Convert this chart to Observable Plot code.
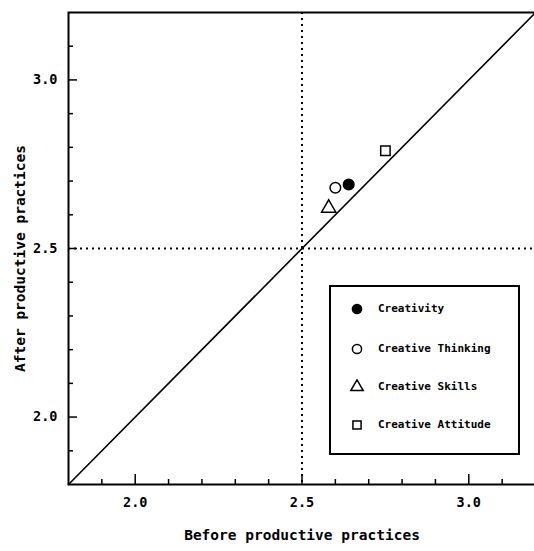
<!DOCTYPE html>
<html><head><meta charset="utf-8">
<script src="https://cdn.jsdelivr.net/npm/d3@7"></script>
<script src="https://cdn.jsdelivr.net/npm/@observablehq/plot@0.6"></script>
<style>
body{margin:0;background:#fff;}
#wrap{position:relative;width:534px;height:551px;overflow:hidden;}
#legend{position:absolute;left:329px;top:285px;width:187px;height:166px;border:2px solid #000;background:#fff;font-family:"DejaVu Sans Mono",monospace;font-weight:bold;font-size:11px;}
.row{position:absolute;left:0;height:16px;display:flex;align-items:center;}
.row svg{position:absolute;left:18px;top:0;}
.row span{position:absolute;left:47px;white-space:nowrap;line-height:16px;top:0;}
</style></head><body><div id="wrap"></div>
<script>
const categories = ["Creativity", "Creative Thinking", "Creative Skills", "Creative Attitude"];
const before = [2.64, 2.60, 2.58, 2.75];
const after = [2.69, 2.68, 2.62, 2.79];
const symbols = ["circle", "circle", "triangle", "square"];
const fills = ["black", "white", "white", "white"];
const xTickLabels = [2.0, 2.5, 3.0];
const yTickLabels = [2.0, 2.5, 3.0];
const xMinorTicks = [1.9, 2.1, 2.2, 2.3, 2.4, 2.6, 2.7, 2.8, 2.9, 3.1];
const yMinorTicks = [1.9, 2.1, 2.2, 2.3, 2.4, 2.6, 2.7, 2.8, 2.9, 3.1];
const refLines = [2.5];
const diagonal = [1.8, 3.2];
const xTitle = "Before productive practices";
const yTitle = "After productive practices";

const data = categories.map((c, i) => ({category: c, before: before[i], after: after[i]}));

const W = 534, H = 551, mL = 68, mR = -1, mT = 12, mB = 67;
const plotH = H - mT - mB, plotW = W - mL - mR;
const fmt = d3.format(".1f");

const chart = Plot.plot({
  width: W, height: H,
  marginLeft: mL, marginRight: mR, marginTop: mT, marginBottom: mB,
  style: {fontFamily: "'DejaVu Sans Mono', monospace", fontWeight: "bold", fontSize: "13px", background: "white", color: "black"},
  x: {domain: diagonal},
  y: {domain: diagonal},
  symbol: {domain: categories, range: symbols},
  color: {domain: categories, range: fills},
  marks: [
    Plot.ruleX(refLines, {x: d => d, stroke: "black", strokeWidth: 2, strokeDasharray: "2,4"}),
    Plot.ruleY(refLines, {y: d => d, stroke: "black", strokeWidth: 2, strokeDasharray: "2,4"}),
    Plot.line(diagonal, {x: d => d, y: d => d, stroke: "black", strokeWidth: 1.6}),
    Plot.frame({stroke: "black", strokeWidth: 2}),
    Plot.tickX(xMinorTicks, {x: d => d, insetTop: plotH - 5, strokeWidth: 1.5}),
    Plot.tickX(xTickLabels, {x: d => d, insetTop: plotH - 10, strokeWidth: 1.5}),
    Plot.tickY(yMinorTicks, {y: d => d, insetRight: plotW - 5, strokeWidth: 1.5}),
    Plot.tickY(yTickLabels, {y: d => d, insetRight: plotW - 9, strokeWidth: 1.5}),
    Plot.axisX(xTickLabels, {tickSize: 0, tickPadding: 13, tickFormat: fmt, label: null, fontSize: 13.5}),
    Plot.axisY(yTickLabels, {tickSize: 0, tickPadding: 11, tickFormat: fmt, label: null, fontSize: 13.5}),
    Plot.text([xTitle], {text: d => d, frameAnchor: "bottom", dy: 55, fontSize: 14.5, fontWeight: "bold"}),
    Plot.text([yTitle], {text: d => d, frameAnchor: "left", textAnchor: "middle", dx: -48, dy: 10, rotate: -90, fontSize: 14.5, fontWeight: "bold"}),
    Plot.dot(data, {x: "before", y: "after", symbol: "category", fill: "category", stroke: "black", strokeWidth: 1.5, r: 5.3})
  ]
});

const wrap = document.getElementById("wrap");
wrap.appendChild(chart);

// legend overlay
const legend = document.createElement("div");
legend.id = "legend";
const rowCenters = [22, 62, 100, 138];
const symMap = {circle: d3.symbolCircle, triangle: d3.symbolTriangle, square: d3.symbolSquare};
categories.forEach((c, i) => {
  const row = document.createElement("div");
  row.className = "row";
  row.style.top = (rowCenters[i] - 8) + "px";
  const r = 4.6;
  const path = d3.symbol(symMap[symbols[i]], r * r * Math.PI)();
  row.innerHTML = `<svg width="16" height="16" viewBox="-8 -8 16 16"><path d="${path}" fill="${fills[i]}" stroke="black" stroke-width="1.5"/></svg><span>${c}</span>`;
  legend.appendChild(row);
});
wrap.appendChild(legend);
</script>
</body></html>
